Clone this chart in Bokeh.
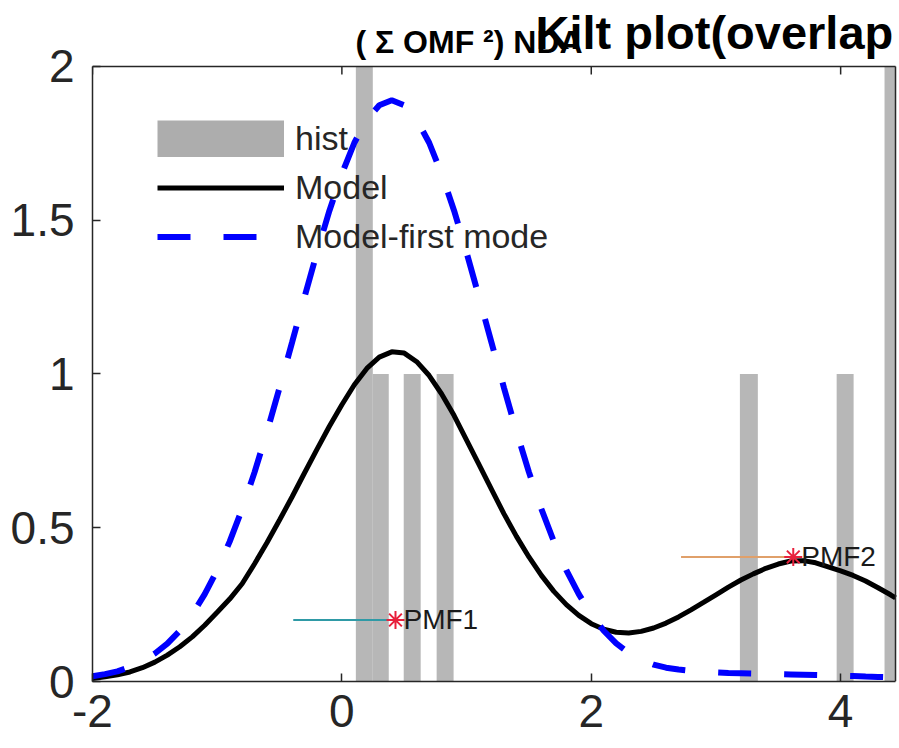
import math
from bokeh.plotting import figure
from bokeh.models import (Range1d, FixedTicker, Label, Legend, LegendItem,
                          CustomJSTickFormatter)
from bokeh.embed import file_html
from bokeh.resources import INLINE
from bokeh.core.properties import value

# ---------------- data ----------------
x_grid = [-2.0, -1.9, -1.8, -1.7, -1.6, -1.5, -1.4, -1.3, -1.2, -1.1,
          -1.0, -0.9, -0.8, -0.7, -0.6, -0.5, -0.4, -0.3, -0.2, -0.1,
          0.0, 0.1, 0.2, 0.3, 0.4, 0.5, 0.6, 0.7, 0.8, 0.9,
          1.0, 1.1, 1.2, 1.3, 1.4, 1.5, 1.6, 1.7, 1.8, 1.9,
          2.0, 2.1, 2.2, 2.3, 2.4, 2.5, 2.6, 2.7, 2.8, 2.9,
          3.0, 3.1, 3.2, 3.3, 3.4, 3.5, 3.6, 3.7, 3.8, 3.9,
          4.0, 4.1, 4.2, 4.3, 4.4, 4.44]
model_y = [0.010, 0.015, 0.022, 0.031, 0.045, 0.063, 0.086, 0.113, 0.145, 0.183,
           0.225, 0.268, 0.318, 0.383, 0.452, 0.525, 0.600, 0.678, 0.755, 0.830,
           0.900, 0.965, 1.018, 1.055, 1.072, 1.068, 1.040, 0.995, 0.935, 0.865,
           0.785, 0.705, 0.625, 0.545, 0.472, 0.405, 0.345, 0.293, 0.250, 0.215,
           0.188, 0.170, 0.160, 0.158, 0.163, 0.174, 0.190, 0.210, 0.233, 0.257,
           0.282, 0.307, 0.330, 0.350, 0.368, 0.382, 0.392, 0.393, 0.386, 0.373,
           0.360, 0.345, 0.327, 0.305, 0.282, 0.272]
first_mode_y = [0.017, 0.024, 0.033, 0.047, 0.066, 0.091, 0.123, 0.165, 0.218, 0.284,
                0.362, 0.455, 0.561, 0.681, 0.813, 0.955, 1.102, 1.250, 1.395, 1.531,
                1.651, 1.752, 1.827, 1.874, 1.890, 1.874, 1.827, 1.752, 1.651, 1.531,
                1.395, 1.250, 1.102, 0.955, 0.813, 0.681, 0.561, 0.455, 0.362, 0.284,
                0.218, 0.165, 0.124, 0.093, 0.070, 0.055, 0.045, 0.039, 0.035, 0.032,
                0.030, 0.028, 0.027, 0.026, 0.025, 0.024, 0.023, 0.022, 0.021, 0.020,
                0.019, 0.018, 0.016, 0.015, 0.014, 0.013]

hist_left = [0.112, 0.248, 0.496, 0.760, 3.192, 3.968, 4.352]
hist_right = [0.248, 0.376, 0.632, 0.896, 3.336, 4.104, 4.440]
hist_count = [2, 1, 1, 1, 1, 1, 2]

pmf_names = ["PMF1", "PMF2"]
pmf_x = [0.43, 3.62]
pmf_y = [0.20, 0.405]
pmf_line_start = [-0.39, 2.72]

x_ticks = [-2, 0, 2, 4]
y_ticks = [0, 0.5, 1, 1.5, 2]
title_main = "Kilt plot(overlap"
title_sub = "( \u03a3 OMF \u00b2) NDA"
legend_labels = ["hist", "Model", "Model-first mode"]

# axes box limits
X_LO, X_HI = -2, 4.44
Y_LO, Y_HI = 0, 2

# ---------------- figure ----------------
FONT = "Liberation Sans"
AX = "#262626"

# the frame is extended above the axes box so the overlapping headings
# (drawn as labels) are not clipped
p = figure(frame_width=807, frame_height=681,
           x_range=Range1d(X_LO, 4.472), y_range=Range1d(Y_LO, 2.2146),
           output_backend="svg", toolbar_location=None,
           min_border_left=92, min_border_right=0,
           min_border_top=0, min_border_bottom=64,
           background_fill_color="white", border_fill_color="white")
p.grid.visible = False
p.outline_line_color = None

fmt = CustomJSTickFormatter(code="return tick.toString();")
for ax, ticks, bnds in ((p.xaxis[0], x_ticks, (X_LO, X_HI)),
                        (p.yaxis[0], y_ticks, (Y_LO, Y_HI))):
    ax.ticker = FixedTicker(ticks=ticks)
    ax.formatter = fmt
    ax.bounds = bnds
    ax.major_tick_in = 8
    ax.major_tick_out = 0
    ax.minor_tick_in = 0
    ax.minor_tick_out = 0
    ax.axis_line_color = AX
    ax.axis_line_width = 1.5
    ax.major_tick_line_color = AX
    ax.major_tick_line_width = 1.5
    ax.major_label_text_font = FONT
    ax.major_label_text_font_size = "46px"
    ax.major_label_text_color = AX
p.xaxis.major_label_standoff = 13
p.yaxis.major_label_standoff = 18

bars = p.quad(left=hist_left, right=hist_right, bottom=0, top=hist_count,
              fill_color="#b7b7b7", line_color=None)
model = p.line(x_grid, model_y, line_color="black", line_width=5)
first = p.line(x_grid, first_mode_y, line_color="#0000ff", line_width=6,
               line_dash="33 33")

# legend proxy for the histogram swatch (full-width gray band, draws nothing)
hist_proxy = p.line(x=[float("nan")], y=[float("nan")],
                    line_color="#adadad", line_width=37)

p.segment(x0=pmf_line_start[:1], y0=pmf_y[:1], x1=pmf_x[:1], y1=pmf_y[:1],
          line_color="#2f9aa6", line_width=2)
p.segment(x0=pmf_line_start[1:], y0=pmf_y[1:], x1=pmf_x[1:], y1=pmf_y[1:],
          line_color="#e0a06a", line_width=2)
p.scatter(pmf_x, pmf_y, marker="asterisk", size=18,
          line_color="#e8203c", line_width=2)
p.text(x=pmf_x, y=pmf_y, text=pmf_names, x_offset=8,
       text_baseline="middle", text_align="left",
       text_font=value(FONT), text_font_size="28px", text_color="#1a1a1a")

# box: top and right edges, with inward ticks on top
p.segment(x0=[X_LO], y0=[Y_HI], x1=[X_HI], y1=[Y_HI],
          line_color=AX, line_width=1.5)
p.segment(x0=[X_HI], y0=[Y_LO], x1=[X_HI], y1=[Y_HI],
          line_color=AX, line_width=1.5)
p.ray(x=x_ticks, y=[Y_HI] * len(x_ticks), length=8, length_units="screen",
      angle=-math.pi / 2, line_color=AX, line_width=1.5)

legend = Legend(items=[LegendItem(label=legend_labels[0], renderers=[hist_proxy]),
                       LegendItem(label=legend_labels[1], renderers=[model]),
                       LegendItem(label=legend_labels[2], renderers=[first])],
                location=(65, 425), border_line_color=None,
                background_fill_alpha=0, padding=0, margin=0, spacing=10,
                glyph_width=127, glyph_height=37, label_height=37,
                label_standoff=11, label_text_font=FONT,
                label_text_font_size="34px", label_text_color=AX)
p.add_layout(legend)

p.add_layout(Label(x=0.109, y=2.081, text=title_sub, text_font=FONT,
                   text_font_size="32px", text_font_style="bold",
                   text_color="black", text_baseline="alphabetic"))
p.add_layout(Label(x=1.553, y=2.110, text=title_main, text_font=FONT,
                   text_font_size="47px", text_font_style="bold",
                   text_color="black", text_baseline="alphabetic"))

open("out.html", "w").write(file_html(p, INLINE))
